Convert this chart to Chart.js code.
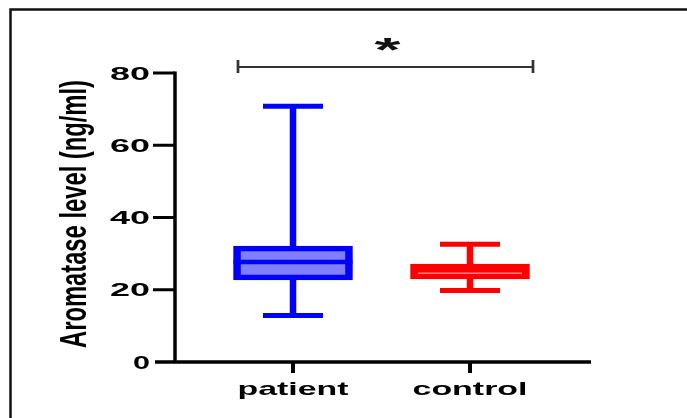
<!DOCTYPE html>
<html>
<head>
<meta charset="utf-8">
<script src="https://cdn.jsdelivr.net/npm/chart.js@4.4.1/dist/chart.umd.min.js"></script>
<style>
  html, body { margin: 0; padding: 0; background: #fff; }
  #wrap { width: 687px; height: 418px; }
</style>
</head>
<body>
<div id="wrap"><canvas id="chart" width="687" height="418"></canvas></div>
<script>
// Box plot: aromatase level, patient vs control
const groups = ['patient', 'control'];
const mins = [12.9, 19.8];
const q1 = [22.7, 23.0];
const medians = [27.7, 24.6];
const q3 = [32.1, 27.1];
const maxs = [70.8, 32.6];
const yTicks = [0, 20, 40, 60, 80];
const yTitle = 'Aromatase level (ng/ml)';
const sigLabel = '*';

const strokeColors = ['#0000ff', '#ff0000'];
const fillColors = ['rgba(0,0,255,0.5)', 'rgba(255,0,0,0.5)'];
const medianColors = ['#0000ff', '#ff8a8a'];

// draw text stretched to a target width (the reference text is wide)
function stretchText(ctx, text, x, y, targetW, font, align, sy) {
  ctx.save();
  ctx.font = font;
  const w = ctx.measureText(text).width;
  const sx = targetW / w;
  ctx.translate(x, y);
  ctx.scale(sx, sy || 1);
  ctx.textAlign = align || 'center';
  ctx.textBaseline = 'alphabetic';
  ctx.fillText(text, 0, 0);
  ctx.restore();
}

const boxPlugin = {
  id: 'boxParts',
  afterDatasetsDraw(chart) {
    const { ctx, scales: { x, y } } = chart;
    ctx.save();
    groups.forEach((g, i) => {
      const cx = x.getPixelForValue(i + 1);
      // whiskers
      ctx.strokeStyle = strokeColors[i];
      ctx.lineWidth = 6.5;
      ctx.beginPath();
      ctx.moveTo(cx, y.getPixelForValue(q3[i]));
      ctx.lineTo(cx, y.getPixelForValue(maxs[i]));
      ctx.moveTo(cx, y.getPixelForValue(q1[i]));
      ctx.lineTo(cx, y.getPixelForValue(mins[i]));
      ctx.stroke();
      // caps
      ctx.lineWidth = 5;
      ctx.beginPath();
      [maxs[i], mins[i]].forEach(v => {
        const py = y.getPixelForValue(v);
        ctx.moveTo(cx - 30, py);
        ctx.lineTo(cx + 30, py);
      });
      ctx.stroke();
      // median
      const py = y.getPixelForValue(medians[i]);
      ctx.strokeStyle = medianColors[i];
      ctx.beginPath();
      if (i === 0) {
        ctx.lineWidth = 4.5;
        ctx.moveTo(cx - 59.5, py);
        ctx.lineTo(cx + 59.5, py);
      } else {
        ctx.lineWidth = 1.5;
        ctx.moveTo(cx - 52, py);
        ctx.lineTo(cx + 52, py);
      }
      ctx.stroke();
    });
    ctx.restore();
  },
  afterDraw(chart) {
    const { ctx, chartArea: area, scales: { x, y } } = chart;
    ctx.save();

    // outer frame (top and left only)
    ctx.strokeStyle = '#111';
    ctx.lineWidth = 2.5;
    ctx.beginPath();
    ctx.moveTo(10.5, 418);
    ctx.lineTo(10.5, 9.5);
    ctx.lineTo(687, 9.5);
    ctx.stroke();

    // axes
    ctx.strokeStyle = '#000';
    ctx.lineWidth = 3.5;
    ctx.beginPath();
    ctx.moveTo(area.left, y.getPixelForValue(80) - 1.5);
    ctx.lineTo(area.left, area.bottom);
    ctx.moveTo(area.left - 20, area.bottom);
    ctx.lineTo(area.right, area.bottom);
    ctx.stroke();

    // y ticks + labels
    ctx.fillStyle = '#000';
    ctx.lineWidth = 3;
    yTicks.forEach(v => {
      const py = y.getPixelForValue(v);
      if (v !== 0) {
        ctx.beginPath();
        ctx.moveTo(area.left - 22, py);
        ctx.lineTo(area.left, py);
        ctx.stroke();
      }
      const label = String(v);
      stretchText(ctx, label, 150, py + 6.5, label.length === 1 ? 17 : 40,
        'bold 18px "Liberation Sans", Arial, sans-serif', 'right');
    });

    // x ticks + labels
    ctx.lineWidth = 4;
    const xWidths = [111, 115];
    groups.forEach((g, i) => {
      const px = x.getPixelForValue(i + 1);
      ctx.beginPath();
      ctx.moveTo(px, area.bottom);
      ctx.lineTo(px, area.bottom + 11);
      ctx.stroke();
      stretchText(ctx, g, px, 395, xWidths[i], 'bold 19px "Liberation Sans", Arial, sans-serif');
    });

    // y title, rotated and stretched across
    ctx.save();
    ctx.font = 'bold 20px "Liberation Sans", Arial, sans-serif';
    const tw = ctx.measureText(yTitle).width;
    ctx.translate(86, 214);
    ctx.rotate(-Math.PI / 2);
    ctx.scale(268 / tw, 1.85);
    ctx.textAlign = 'center';
    ctx.textBaseline = 'alphabetic';
    ctx.fillText(yTitle, 0, 0);
    ctx.restore();

    // significance bracket
    const x1 = x.getPixelForValue(1) - 55;
    const x2 = x.getPixelForValue(2) + 63;
    const by = 67;
    ctx.strokeStyle = '#333';
    ctx.lineWidth = 2;
    ctx.beginPath();
    ctx.moveTo(x1, by);
    ctx.lineTo(x2, by);
    ctx.stroke();
    ctx.lineWidth = 2.7;
    ctx.beginPath();
    ctx.moveTo(x1, by - 7);
    ctx.lineTo(x1, by + 6);
    ctx.moveTo(x2, by - 7);
    ctx.lineTo(x2, by + 6);
    ctx.stroke();
    ctx.fillStyle = '#111';
    stretchText(ctx, sigLabel, (x1 + x2) / 2 + 2, 61, 26, 'bold 34px "Liberation Sans", Arial, sans-serif', 'center', 0.95);

    ctx.restore();
  }
};

new Chart(document.getElementById('chart'), {
  type: 'bar',
  data: {
    datasets: [{
      data: groups.map((g, i) => ({ x: i + 1, y: [q1[i], q3[i]] })),
      backgroundColor: fillColors,
      borderColor: strokeColors,
      borderWidth: [
        { top: 5, bottom: 5, left: 7, right: 7 },
        { top: 7, bottom: 7, left: 7, right: 7 },
      ],
      borderSkipped: false,
      barThickness: 119,
    }],
  },
  options: {
    responsive: false,
    animation: false,
    layout: { padding: { left: 175, right: 96, top: 73, bottom: 56 } },
    plugins: {
      legend: { display: false },
      tooltip: { enabled: false },
    },
    scales: {
      x: { type: 'linear', min: 0.3333, max: 2.6836, offset: false, display: false },
      y: { min: 0, max: 80, display: false },
    },
  },
  plugins: [boxPlugin],
});
</script>
</body>
</html>
